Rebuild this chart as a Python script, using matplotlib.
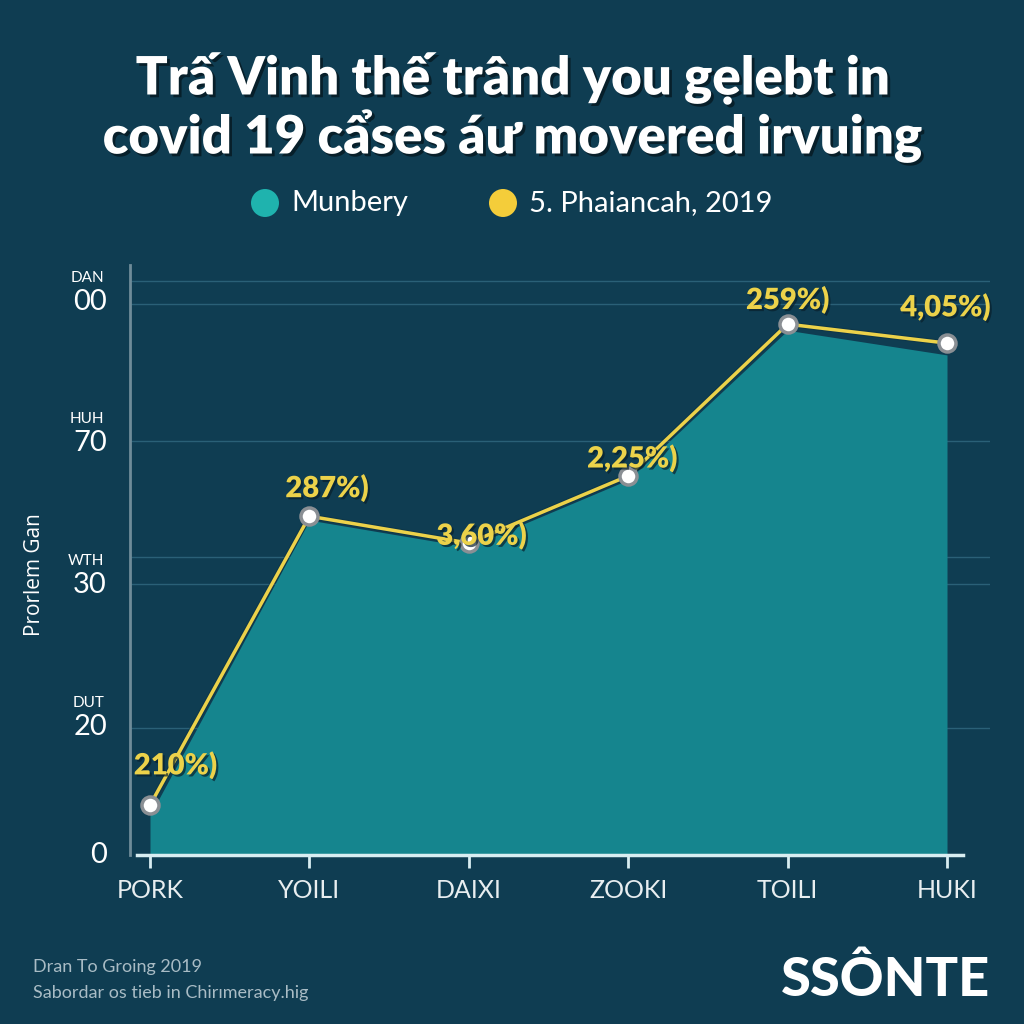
import matplotlib
matplotlib.use("Agg")
import matplotlib.pyplot as plt
import matplotlib.patheffects as pe
from matplotlib.patches import Circle

# ---- data ----
categories = ["PORK", "YOILI", "DAIXI", "ZOOKI", "TOILI", "HUKI"]
area_values = [7.1, 59.8, 55.0, 67.0, 93.7, 89.3]          # Munbery
line_values = [8.9, 60.5, 55.7, 67.7, 94.8, 91.4]          # 5. Phaiancah, 2019
point_labels = ["210%)", "287%)", "3,60%)", "2,25%)", "259%)", "4,05%)"]
ytick_values = [0, 22.9, 48.2, 73.6, 98.7]
ytick_labels = ["0", "20", "30", "70", "00"]
ytick_small = ["", "DUT", "WTH", "HUH", "DAN"]
grid_values = [22.7, 48.4, 53.2, 73.9, 98.4, 102.5]

BG = "#0f3d52"
TEAL = "#15858e"
YEL = "#ecd24a"
FONT = "Lato"

fig = plt.figure(figsize=(10.24, 10.24), dpi=100, facecolor=BG)
W = H = 1024.0

def fx(px):
    return px / W

def fy(py):
    return 1 - py / H

ax_left, ax_right, ax_top, ax_bot = 130, 990, 265, 855
ax = fig.add_axes([fx(ax_left), fy(ax_bot), fx(ax_right - ax_left), (ax_bot - ax_top) / H])
ax.set_facecolor(BG)
axw = ax_right - ax_left

x = list(range(len(categories)))
step = 159.4
ax.set_xlim(-(150 - ax_left) / step, (ax_right - 150) / step)
ax.set_ylim(0, (ax_bot - ax_top) / 5.6)

for g in grid_values:
    ax.axhline(g, color="#2a6077", lw=1.0, zorder=1)

ax.fill_between(x, 0, area_values, color=TEAL, zorder=2, lw=0)
ax.plot(x, line_values, color=YEL, lw=2.5, zorder=3,
        path_effects=[pe.Stroke(linewidth=4, foreground="#0a2a38", alpha=0.35), pe.Normal()])
ax.scatter(x, line_values, s=150, facecolor="white", edgecolor="#8a8f94", linewidth=2.5, zorder=4)

label_dx = [0.16, 0.11, 0.08, 0.025, 0.0, -0.01]
label_dy = [4.6, 2.5, -1.2, 0.6, 1.8, 3.9]
for xi, yi, lab, dx, dy in zip(x, line_values, point_labels, label_dx, label_dy):
    ax.text(xi + dx, yi + dy, lab, color=YEL, fontsize=21, fontweight="heavy", family=FONT,
            ha="center", va="bottom", zorder=5,
            path_effects=[pe.withSimplePatchShadow(offset=(1.5, -1.5), shadow_rgbFace="#08202c", alpha=0.7)])

# spines
for s in ["top", "right"]:
    ax.spines[s].set_visible(False)
ax.spines["left"].set_color("#6f8c99")
ax.spines["left"].set_linewidth(2)
ax.spines["bottom"].set_color("#d8eef2")
ax.spines["bottom"].set_linewidth(2.5)
ax.spines["bottom"].set_bounds(-(150 - 137) / step, (963 - 150) / step)

ax.set_xticks(x)
ax.set_xticklabels(categories, family=FONT, fontsize=18, color="#e8eef0")
ax.tick_params(axis="x", length=9, width=2, color="#d8eef2", pad=8)
ax.set_yticks([])

# y tick labels drawn manually with small headers
for v, lab, small in zip(ytick_values, ytick_labels, ytick_small):
    ax.text(-(130 - 107) / axw, v, lab, transform=ax.get_yaxis_transform(), ha="right",
            va="center", color="white", fontsize=21, family=FONT)
    if small:
        ax.text(-(130 - 104) / axw, v + 4.3, small, transform=ax.get_yaxis_transform(),
                ha="right", va="center", color="white", fontsize=11, family=FONT)

fig.text(fx(35), fy(575), "Prorlem Gan", rotation=90, ha="center", va="center",
         color="white", fontsize=15, family="Open Sans")

# title
shadow = [pe.withSimplePatchShadow(offset=(2, -2), shadow_rgbFace="#061820", alpha=0.8)]
fig.text(0.5, fy(78), "Trấ Vinh thế trând you gẹlebt in", ha="center", va="center",
         color="white", fontsize=38, fontweight="heavy", family=FONT, path_effects=shadow)
fig.text(0.5, fy(136), "covid 19 cẩses áư movered irvuing", ha="center", va="center",
         color="white", fontsize=38, fontweight="heavy", family=FONT, path_effects=shadow)

# legend
fig.patches.append(Circle((fx(265), fy(203)), 14 / W, transform=fig.transFigure,
                          facecolor="#1fb3ae", edgecolor="none"))
fig.text(fx(291), fy(203), "Munbery", ha="left", va="center", color="white", fontsize=21, family=FONT)
fig.patches.append(Circle((fx(503), fy(203)), 14 / W, transform=fig.transFigure,
                          facecolor="#f4cd3a", edgecolor="none"))
fig.text(fx(529), fy(203), "5. Phaiancah, 2019", ha="left", va="center", color="white",
         fontsize=21, family=FONT)

# footer
fig.text(fx(33), fy(967), "Dran To Groing 2019", ha="left", va="center", color="#a9bcc5",
         fontsize=13, family=FONT)
fig.text(fx(33), fy(993), "Sabordar os tieb in Chirımeracy.hig", ha="left", va="center",
         color="#a9bcc5", fontsize=13, family=FONT)
fig.text(fx(990), fy(980), "SSÔNTE", ha="right", va="center", color="white", fontsize=39,
         fontweight="black", family=FONT)

fig.savefig("out.png", dpi=100, facecolor=BG)
